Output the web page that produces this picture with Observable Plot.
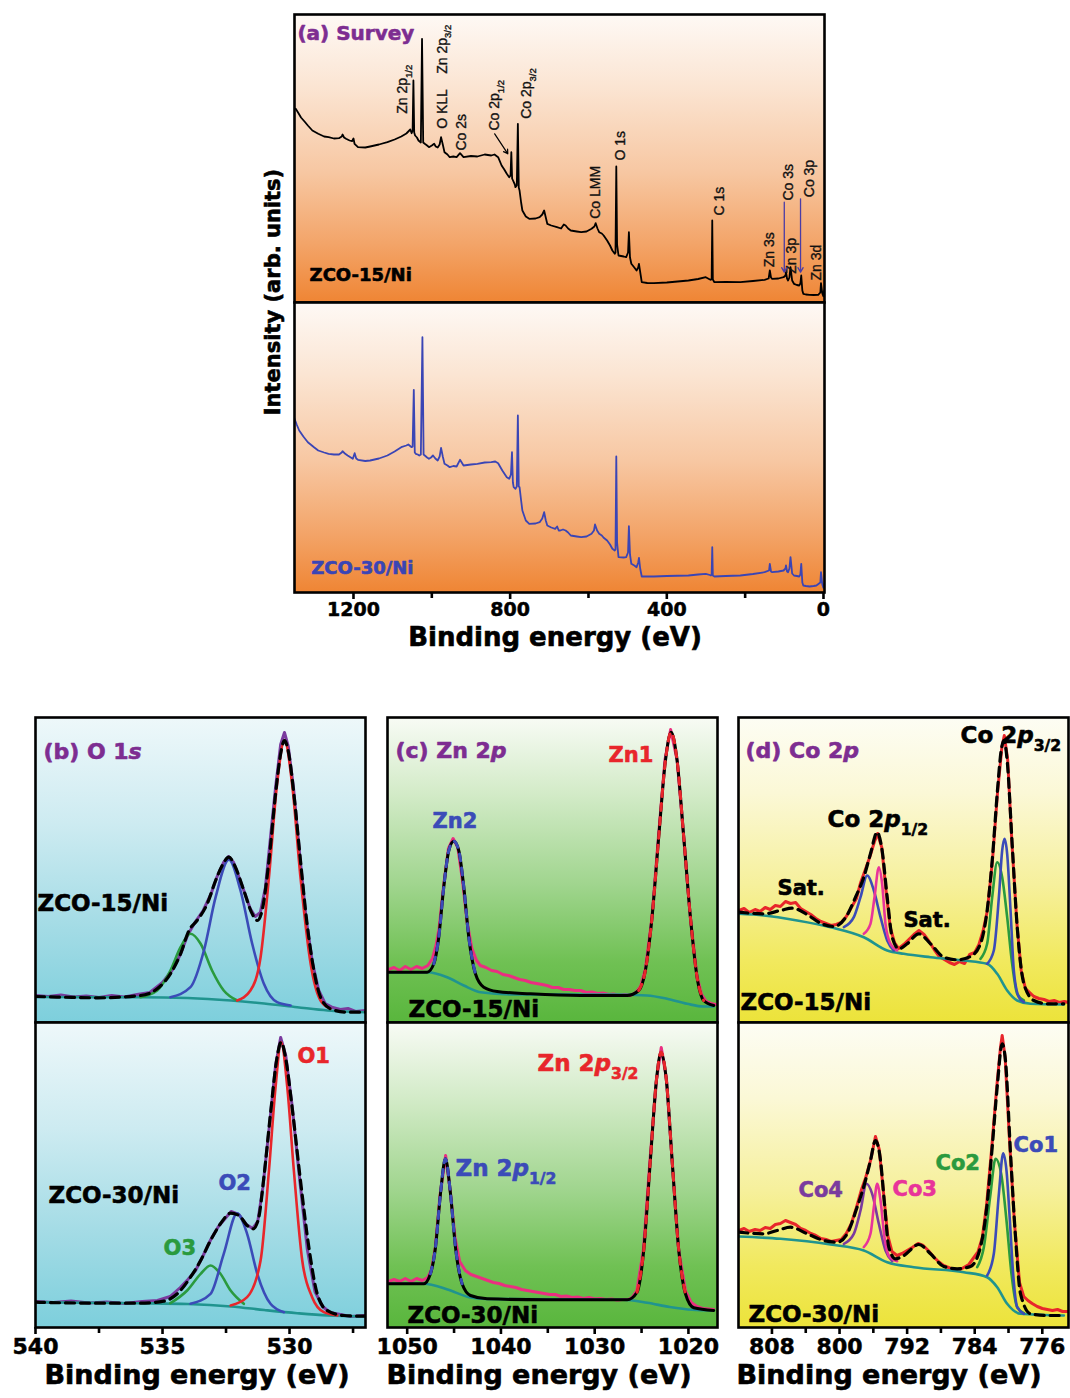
<!DOCTYPE html>
<html><head><meta charset="utf-8">
<script src="https://cdn.jsdelivr.net/npm/d3@7"></script>
<script src="https://cdn.jsdelivr.net/npm/@observablehq/plot@0.6"></script>
<style>
html,body{margin:0;padding:0;background:#fff;}
#fig{position:relative;width:1070px;height:1398px;overflow:hidden;background:#fff;font-family:"DejaVu Sans",sans-serif;}
.bg{position:absolute;}
.plotwrap{position:absolute;}
.plotwrap svg{overflow:visible;display:block;}
.ttl{position:absolute;font-weight:bold;white-space:nowrap;line-height:1;color:#000;font-family:"DejaVu Sans",sans-serif;-webkit-text-stroke:0.6px #000;}
</style></head>
<body><div id="fig"></div>
<script>
// ---------------- DATA ----------------
// (a) Survey: [binding energy (eV), intensity (a.u.)]
const surveyTicks = [1200, 800, 400, 0];
const surveyMinorTicks = [1000, 600, 200];
const surveyZCO15 = [[1347.5,193.7],[1340,189],[1334,185],[1325,181],[1316.5,177],[1305,172],[1290,168.7],[1275,166],[1263.5,165.3],[1250,164],[1237,164.3],[1230,166],[1228,168],[1224,165],[1219,163.7],[1210,162],[1203.5,161.3],[1200,164],[1197.3,158.7],[1188.5,155.3],[1170,155],[1157.5,156],[1135,158],[1113.4,160.3],[1095,163],[1078,166],[1065,169],[1060,171],[1055,173],[1051.5,169.3],[1049,172],[1047,222],[1045,170],[1042.7,167],[1038,165],[1034,162],[1028,160],[1025,263.7],[1022,160],[1018,158.7],[1012,157],[1007.3,155.3],[1000,157],[994,158.7],[990,156],[985,155],[980,158],[976.4,165.3],[972,158],[967.6,150.3],[960,148],[954.3,145.3],[945,146],[936.7,145.3],[928,149.3],[919,145.3],[900,146.5],[883.7,146],[865,148],[848.3,147],[840,148],[830.7,145.3],[821.8,137],[815,133],[808.6,128.7],[802.4,125.3],[799,127],[797,150.3],[795,124],[792.7,122],[788,118],[786.5,115.3],[783,117],[780.3,178.7],[778,115],[776,112],[772,100],[768.8,92],[760,86],[751.2,83.7],[735,84],[724.7,85.3],[718,88],[713.2,92],[709,85],[705.2,78.7],[695,77],[680.5,75.3],[670,74],[663,78],[658.4,77],[652,74],[645.2,72],[630,71],[618.7,70.3],[605,71],[592.2,73.7],[585,76],[581.6,79.3],[577,74],[572.7,70.3],[566,69],[561.2,67],[552.4,62],[545,57],[539,52],[532.9,48.7],[531,50],[529,136],[527,58],[523.3,47],[510,46],[503.8,45.3],[499,50],[496.8,70.3],[494,45],[490.6,38.7],[483,35],[477.3,32],[473,35],[471.1,38.7],[467,28],[464,20.3],[450,19.5],[433,19.3],[400,20],[344.8,22],[320,23.5],[300.6,25.3],[290,23],[287.4,22.7],[285.5,24],[284,82],[282.5,23],[278.5,20.3],[250,20.5],[212.3,20.3],[180,21.5],[150.4,22.7],[140,24],[137,32],[134,25],[131,23.7],[115,24],[102,25.3],[97,27],[95.7,30.3],[93,24],[90.4,22],[87,25],[84.2,35.3],[80,22],[75.3,18.7],[68,17.5],[62,17],[59,19],[56.8,27],[54,12],[51.5,8.7],[45,8],[35.6,7.7],[25,7.5],[13.5,7.7],[8,10],[6.4,19.3],[3,9],[0.3,6.3],[-2,12]];
const surveyZCO30 = [[1352,175.3],[1345,168],[1338.6,162],[1328,156],[1316.5,150.3],[1300,145],[1290,142],[1275,140],[1263.5,138.7],[1250,138],[1237,138],[1230,140],[1228,141.3],[1222,139],[1215,137],[1201.7,133.7],[1197,139.3],[1193,134],[1188.5,132.7],[1170,131.5],[1157.5,132],[1135,134],[1113.4,137],[1095,141],[1078,145.3],[1065,147],[1060,148],[1051.5,145.3],[1049,146],[1046,202.7],[1043.5,140],[1041,138.7],[1036,138],[1032,137],[1028,138],[1024,255.3],[1021,138],[1018,137],[1012,135],[1007.3,133.7],[1002,135],[997,137],[991,134],[985,132],[980,136],[976.4,144.7],[972,136],[967.6,128.7],[960,127],[954.3,125.3],[945,126.5],[936.7,126],[928,132.7],[919,127],[900,128],[883.7,128.7],[865,130],[848.3,130.3],[838,131],[830.7,129.3],[820,122],[808.6,115.3],[802.4,113.7],[798,118],[795.3,140.3],[793,110],[791,105.3],[786.5,103.7],[783,106],[780.3,177],[778,106],[776,105.3],[772,92],[768.8,82],[760,72],[751.2,68.7],[735,69],[724.7,70.3],[718,74],[713.2,80.3],[709,72],[705.2,67],[695,65],[685,63.7],[680,66],[676,62],[672,62],[665,63],[658.4,62],[652,60],[645.2,57],[630,56],[618.7,55.3],[605,56],[592.2,58.7],[586,62],[583.3,68],[578,62],[572.7,58.7],[566,57],[561.2,54.7],[552.4,52],[545,48],[539,43.7],[532.9,42],[531,43],[529,136],[527,50],[523.3,35.3],[510,35],[503.8,35.3],[499,40],[496.8,66.3],[494,38],[490.6,28.7],[483,27],[477.3,25.3],[473,30],[471.1,34.7],[468,24],[464,16],[450,16],[433,16],[400,16.5],[344.8,17],[320,18],[300.6,18.7],[290,17.5],[287.4,17],[285.5,18],[284,45.3],[282.5,17],[278.5,16],[250,16.5],[212.3,17],[180,18.5],[150.4,20.3],[139,22],[137,28.7],[134,21],[131,20.3],[115,21],[102,22],[97,24],[95.7,27],[93,21],[90.4,20.3],[87,24],[84.2,35.3],[80,19],[75.3,17],[68,16.5],[62,16],[59,18],[56.8,28.7],[54,10],[51.5,7],[45,6.5],[35.6,6],[25,6.5],[18,7],[8,10],[6.4,20.3],[3,8],[0.3,4.7],[-2,8.7]];
const surveyPeakLabels = [
  {label: "Zn 2p_{1/2}", energy: 1073.6, intensity: 188.7},
  {label: "Zn 2p_{3/2}", energy: 973.8, intensity: 228.7},
  {label: "O KLL", energy: 973.8, intensity: 173.7},
  {label: "Co 2s", energy: 925.2, intensity: 152},
  {label: "Co 2p_{1/2}", energy: 839.5, intensity: 172},
  {label: "Co 2p_{3/2}", energy: 757.3, intensity: 183.7},
  {label: "Co LMM", energy: 583.3, intensity: 83.7},
  {label: "O 1s", energy: 517.1, intensity: 142},
  {label: "C 1s", energy: 265.3, intensity: 87},
  {label: "Zn 3s", energy: 137.2, intensity: 35.3},
  {label: "Co 3s", energy: 88.6, intensity: 102},
  {label: "Zn 3p", energy: 81.5, intensity: 28.7},
  {label: "Co 3p", energy: 35.6, intensity: 105.3},
  {label: "Zn 3d", energy: 17.9, intensity: 22}
];
const surveyArrowBlack = [{x1: 839.5, y1: 168.7, x2: 805.9, y2: 148.7}];
const surveyArrowsBlue = [{x1: 100.1, y1: 100.3, x2: 100.1, y2: 30.3}, {x1: 58.6, y1: 103.7, x2: 58.6, y2: 30.3}];
const surveyLabelsTop = [{label: "(a) Survey", energy: 1343, intensity: 268.7}, {label: "ZCO-15/Ni", energy: 1312.1, intensity: 27}];
const surveyLabelsBottom = [{label: "ZCO-30/Ni", energy: 1307.7, intensity: 24.7}];

// (b) O 1s
const o1sTicks = [540, 535, 530];
const o1sMinorTicks = [537.5, 532.5, 527.5];
const o1sRawTop = [[540,27],[539.5,26],[539,27.5],[538.5,25.5],[538,26.5],[537.5,25],[537,27],[536.5,25.5],[536,28],[535.5,30],[535,40],[534.6,53],[534.3,68],[534,88],[533.7,101],[533.4,112],[533.1,128],[532.85,146],[532.6,160],[532.4,166],[532.2,160],[532,146],[531.8,132],[531.55,114],[531.35,106],[531.15,110],[530.95,135],[530.75,185],[530.55,235],[530.35,278],[530.2,290],[530.05,276],[529.85,236],[529.6,168],[529.35,104],[529.1,60],[528.85,32],[528.6,19],[528.3,15],[528,13],[527.7,14],[527.4,11],[527,12]];
const o1sEnvelopeTop = [[540,26],[538.88,25.3],[537.57,24.7],[535.87,27],[535.21,33.7],[534.69,48.7],[534.29,68.7],[533.96,92],[533.64,102],[533.24,118.7],[532.91,142],[532.65,157],[532.39,165.3],[532.13,155.3],[531.8,132],[531.47,108.7],[531.27,102],[531.08,112],[530.81,162],[530.55,228.7],[530.35,268.7],[530.2,282],[530.03,268.7],[529.83,228.7],[529.57,162],[529.31,98.7],[529.04,52],[528.78,25.3],[528.39,13.7],[527.73,10.3],[527.01,10.3]];
const o1sBaselineTop = [[540,25.5],[537,25.3],[535.9,25.3],[534,24.5],[532.3,22],[531,19],[529.7,15.3],[528.5,12],[527,10.3]];
const o1sO1Top = [[532.06,22],[531.54,32],[531.14,65.3],[530.81,145.3],[530.49,238.7],[530.2,282],[529.9,238.7],[529.57,145.3],[529.17,58.7],[528.78,22],[528.39,13.7]];
const o1sO2Top = [[534.69,25.3],[533.9,35.3],[533.37,72],[532.91,125.3],[532.39,162.7],[531.93,132],[531.47,78.7],[531.01,38.7],[530.49,20.3],[529.96,17]];
const o1sO3Top = [[535.87,25.3],[535.21,32],[534.69,52],[534.29,75.3],[533.9,88.7],[533.5,78.7],[533.05,52],[532.59,32],[532.06,22]];
const o1sRawBottom = [[540,26],[539.3,25],[538.6,26.5],[537.9,24.5],[537.2,25.5],[536.5,24],[535.8,26],[535.2,27],[534.7,31],[534.3,40],[534,48],[533.7,57],[533.4,72],[533.1,88],[532.8,101],[532.5,110],[532.3,116],[532,113],[531.7,103],[531.45,99],[531.25,106],[531.05,140],[530.8,200],[530.55,262],[530.35,290],[530.15,272],[529.9,222],[529.6,148],[529.3,78],[529,36],[528.7,21],[528.4,15],[528,13],[527.6,11],[527,12]];
const o1sEnvelopeBottom = [[540,25.3],[537.57,24.3],[535.87,24.3],[534.95,26.3],[534.42,33.7],[533.9,50.3],[533.5,67],[533.11,87],[532.72,103.7],[532.32,114.3],[531.99,112],[531.67,102],[531.43,98.7],[531.21,110.3],[531.01,150.3],[530.75,213.7],[530.49,270.3],[530.33,285.3],[530.16,270.3],[529.9,220.3],[529.57,147],[529.24,80.3],[528.91,33.7],[528.52,17],[527.86,12],[527.01,11.3]];
const o1sBaselineBottom = [[540,25.3],[536,24.3],[534,23.5],[532.3,21],[531,17.5],[529.7,14.3],[528.5,12],[527,11]];
const o1sO1Bottom = [[532.32,22],[531.67,30.3],[531.14,67],[530.81,157],[530.55,240.3],[530.33,285.3],[530.09,240.3],[529.83,157],[529.5,67],[529.11,30.3],[528.65,15.3],[528.12,12]];
const o1sO2Bottom = [[533.9,23.7],[533.11,33.7],[532.59,73.7],[532.06,114.3],[531.67,93.7],[531.27,53.7],[530.75,23.7],[530.22,15.3]];
const o1sO3Bottom = [[534.69,24.3],[534.03,37],[533.5,53.7],[533.11,62],[532.72,53.7],[532.32,37],[531.8,23.7]];
const o1sLabelsTop = [{label: "(b) O 1*s*", energy: 539.69, intensity: 271}, {label: "ZCO-15/Ni", energy: 539.92, intensity: 119}];
const o1sLabelsBottom = [{label: "ZCO-30/Ni", energy: 539.49, intensity: 132}, {label: "O1", energy: 529.69, intensity: 271}, {label: "O2", energy: 532.8, intensity: 144}, {label: "O3", energy: 534.96, intensity: 79}];

// (c) Zn 2p
const zn2pTicks = [1050, 1040, 1030, 1020];
const zn2pMinorTicks = [1045, 1035, 1025];
const zn2pRawTop = [[1052,53],[1051.4,55],[1050.8,52],[1050.2,56],[1049.6,53],[1049,56],[1048.4,54],[1047.8,57],[1047.3,64],[1046.9,78],[1046.6,94],[1046.1,138],[1045.6,174],[1045.1,184],[1044.6,175],[1044.1,142],[1043.6,100],[1043.1,74],[1042.6,62],[1042.2,57],[1041.6,55],[1041,52],[1040.4,51],[1039.8,48],[1039.2,47],[1038.6,45],[1038,43],[1037.4,42],[1036.8,40],[1036.2,39],[1035.6,38],[1035.1,37],[1034.5,35],[1033.9,35],[1033.3,33],[1032.7,33],[1032.1,32],[1031.5,32],[1030.9,30],[1030.3,30.5],[1029.7,29],[1029.1,29.5],[1028.5,28],[1028,28.5],[1027.4,27],[1026.8,28],[1026.2,27],[1025.6,30],[1025.1,36],[1024.6,53],[1023.9,104],[1023.2,186],[1022.5,263],[1021.9,293],[1021.2,262],[1020.5,185],[1019.8,105],[1019.1,47],[1018.6,28],[1018.1,21],[1017.6,19],[1017.1,18]];
const zn2pEnvelopeTop = [[1051.96,50.3],[1047.87,50.3],[1047.16,58.7],[1046.63,85.3],[1046.1,135.3],[1045.56,172],[1045.03,181.3],[1044.5,172],[1043.96,135.3],[1043.43,85.3],[1042.72,48.7],[1041.83,35.3],[1040.41,31],[1036.85,28.7],[1031.52,27],[1026.54,27],[1025.3,32],[1024.59,52],[1023.88,105.3],[1023.17,185.3],[1022.45,262],[1021.85,290.3],[1021.21,262],[1020.5,185.3],[1019.79,105.3],[1019.08,45.3],[1018.37,22],[1017.3,17]];
const zn2pBaselineTop = [[1051.96,50.3],[1047.87,50.3],[1045.74,45.3],[1043.96,37],[1042.19,30.3],[1038.63,28],[1027.97,28],[1024.41,27],[1022.28,23.7],[1020.14,18.7],[1018.37,16],[1017.3,16]];
const zn2pZn1Top = [[1025.3,32],[1024.59,52],[1023.88,105.3],[1023.17,185.3],[1022.45,262],[1021.85,290.3],[1021.21,262],[1020.5,185.3],[1019.79,105.3],[1019.08,45.3],[1018.37,22]];
const zn2pZn2Top = [[1047.16,58.7],[1046.63,85.3],[1046.1,135.3],[1045.56,172],[1045.03,181.3],[1044.5,172],[1043.96,135.3],[1043.43,85.3],[1042.72,48.7]];
const zn2pRawBottom = [[1052,46],[1051.4,48],[1050.8,46],[1050.2,49],[1049.6,46],[1049,49],[1048.4,47],[1047.8,50],[1047.4,58],[1047,80],[1046.5,132],[1045.9,172],[1045.4,136],[1044.9,90],[1044.4,66],[1043.8,57],[1043.2,53],[1042.6,51],[1042,49],[1041.4,47],[1040.8,45],[1040.2,44],[1039.6,42],[1039,41],[1038.4,40],[1037.8,38],[1037.2,37],[1036.6,36],[1036,35],[1035.4,34],[1034.8,33],[1034.2,33],[1033.6,31],[1033,31.5],[1032.4,30],[1031.8,30.5],[1031.2,29],[1030.6,30],[1030,28.5],[1029.4,29],[1028.8,28],[1028.2,28.5],[1027.6,27.5],[1027,28],[1026.4,28],[1026,30],[1025.5,37],[1024.8,78],[1024.1,168],[1023.4,248],[1022.9,280],[1022.35,249],[1021.75,168],[1021.05,78],[1020.3,36],[1019.7,25],[1019.1,21],[1018.5,19],[1017.9,18.5],[1017.3,18]];
const zn2pEnvelopeBottom = [[1051.96,43.7],[1048.23,43.7],[1047.52,53.7],[1046.98,80.3],[1046.45,133.7],[1045.92,168.7],[1045.38,133.7],[1044.85,80.3],[1044.14,43.7],[1043.25,32],[1041.47,28.7],[1035.08,27.7],[1026.54,27.7],[1025.48,35.3],[1024.77,77],[1024.06,167],[1023.42,247],[1022.92,275.3],[1022.35,247],[1021.74,167],[1021.03,77],[1020.32,33.7],[1019.43,19.7],[1017.3,17]];
const zn2pBaselineBottom = [[1051.96,43.7],[1048.23,43.7],[1045.7,38],[1043.4,30.3],[1041.5,28.5],[1027,27.7],[1024.4,24.7],[1022,20.5],[1019.6,17.7],[1017.3,17]];
const zn2pZn1Bottom = [[1025.48,35.3],[1024.77,77],[1024.06,167],[1023.42,247],[1022.92,275.3],[1022.35,247],[1021.74,167],[1021.03,77],[1020.32,33.7]];
const zn2pZn2Bottom = [[1047.52,53.7],[1046.98,80.3],[1046.45,133.7],[1045.92,168.7],[1045.38,133.7],[1044.85,80.3],[1044.14,43.7]];
const zn2pLabelsTop = [{label: "(c) Zn 2*p*", energy: 1051.25, intensity: 272}, {label: "Zn1", energy: 1028.53, intensity: 267}, {label: "Zn2", energy: 1047.3, intensity: 201}, {label: "ZCO-15/Ni", energy: 1049.86, intensity: 13}];
const zn2pLabelsBottom = [{label: "Zn 2*p*_{3/2}", energy: 1036.1, intensity: 264}, {label: "Zn 2*p*_{1/2}", energy: 1044.85, intensity: 159}, {label: "ZCO-30/Ni", energy: 1049.97, intensity: 12}];

// (d) Co 2p
const co2pTicks = [808, 800, 792, 784, 776];
const co2pMinorTicks = [804, 796, 788, 780];
const co2pRawTop = [[811.9,112],[811.3,114],[810.7,110],[810,113],[809.4,111],[808.8,115],[808.2,113],[807.6,117],[807,116],[806.4,121],[805.8,119],[805.2,120],[804.6,114],[804,111],[803.4,108],[802.8,104],[802.2,101],[801.6,99],[801,97],[800.4,98],[799.8,100],[799.2,106],[798.6,115],[798,124],[797.5,140],[796.9,154],[796.4,166],[795.9,180],[795.5,189],[795,175],[794.5,132],[794,95],[793.5,80],[793,74],[792.4,78],[791.8,83],[791.2,88],[790.6,92],[790,88],[789.4,81],[788.8,73],[788.2,66],[787.6,63],[787,60],[786.4,58],[785.8,61],[785.2,59],[784.6,68],[784,70],[783.5,78],[783,92],[782.5,112],[781.9,162],[781.3,230],[780.8,274],[780.5,287],[780.1,263],[779.6,180],[779,98],[778.5,52],[778,34],[777.5,30],[777,26],[776.4,24],[775.8,23],[775.2,21],[774.6,22],[774,20],[773.4,21],[772.9,20]];
const co2pEnvelopeTop = [[811.92,110.3],[808.96,108.7],[806.99,112],[805.61,114.3],[803.83,108],[802.26,99.3],[800.68,96],[799.3,104.7],[798.11,125.3],[797.13,145.3],[796.34,168.7],[795.55,190.3],[794.96,172],[794.36,125.3],[793.77,85.3],[792.98,73.7],[792,78.7],[790.62,88.7],[789.23,78.7],[787.66,65.3],[786.08,62.7],[784.5,66],[783.32,78.7],[782.53,112],[781.93,162],[781.34,228.7],[780.87,272],[780.55,282],[780.16,262],[779.57,178.7],[778.97,95.3],[778.18,38.7],[777,22],[775.42,18.7],[773.45,18.7]];
const co2pBaselineTop = [[811.92,108.7],[808.96,107],[805.02,102],[801.07,95.3],[797.13,85.3],[794.36,72],[792.39,68.7],[789.23,65.3],[785.29,62],[782.53,58.7],[781.34,48.7],[780.16,32],[778.97,22],[777.4,18.7],[773.45,18]];
const co2pCo1Top = [[782.53,58.7],[781.74,72],[781.14,125.3],[780.75,172],[780.47,183.7],[780.16,168.7],[779.76,112],[779.37,52],[778.78,25.3],[778.18,20.3]];
const co2pCo2Top = [[783.32,63.7],[782.53,78.7],[781.93,125.3],[781.34,160.3],[780.75,145.3],[780.16,105.3],[779.57,58.7],[778.97,28.7],[778.18,22]];
const co2pCo3Top = [[797.13,88.7],[796.34,98.7],[795.86,125.3],[795.35,155.3],[794.96,138.7],[794.56,98.7],[793.97,78.7],[793.18,72]];
const co2pCo4Top = [[799.49,95.3],[798.31,105.3],[797.52,125.3],[796.73,147],[795.94,132],[795.15,105.3],[794.36,82],[793.57,72]];
const co2pRawBottom = [[811.9,97],[811.3,99],[810.7,96],[810,98],[809.4,97],[808.8,100],[808.2,99],[807.6,103],[807,104],[806.4,107],[805.8,105],[805.2,103],[804.6,99],[804,97],[803.4,94],[802.8,92],[802.2,89],[801.6,88],[801,86],[800.4,87],[799.8,88],[799.2,94],[798.6,104],[798,120],[797.4,138],[796.9,150],[796.3,168],[795.75,191],[795.3,178],[794.8,135],[794.3,92],[793.8,76],[793.2,72],[792.6,74],[792,77],[791.4,80],[790.7,84],[790.1,82],[789.5,77],[788.9,71],[788.3,66],[787.7,62],[787.1,60],[786.5,58],[785.9,57],[785.3,60],[784.7,63],[784.1,70],[783.6,76],[783.1,90],[782.6,122],[782,178],[781.4,240],[780.95,280],[780.75,292],[780.4,270],[779.9,190],[779.3,105],[778.7,45],[778.2,31],[777.7,27],[777.2,24],[776.6,21],[776,19],[775.4,18],[774.8,17],[774.2,18],[773.6,16],[772.9,16]];
const co2pEnvelopeBottom = [[811.92,95.3],[808.96,93.7],[807.39,97],[805.81,100.3],[803.83,93.7],[801.86,87],[800.28,85.3],[799.1,93.7],[797.92,120.3],[796.93,147],[796.34,167],[795.75,187],[795.15,167],[794.68,123.7],[794.17,80.3],[793.38,68.7],[792.39,72],[790.62,83],[789.23,73.7],[787.66,61],[786.08,58.7],[784.5,61],[783.32,80.3],[782.53,123.7],[781.93,180.3],[781.34,240.3],[780.75,283.7],[780.36,267],[779.76,173.7],[779.17,90.3],[778.58,33.7],[777.4,13.7],[775.42,12],[773.45,12]];
const co2pBaselineBottom = [[811.92,91],[806.99,88.7],[801.07,83],[797.13,77],[794.36,65.3],[791.21,60.3],[785.29,55.3],[782.53,50.3],[781.34,40.3],[780.16,23.7],[778.58,13.7],[773.45,12]];
const co2pCo1Bottom = [[782.53,52],[781.74,73.7],[781.14,133.7],[780.63,174.3],[780.24,157],[779.84,107],[779.45,53.7],[778.97,20.3],[778.18,13.7]];
const co2pCo2Bottom = [[783.71,60.3],[782.92,80.3],[782.13,133.7],[781.54,168.7],[780.87,153.7],[780.24,107],[779.65,53.7],[778.97,20.3],[778.18,14.3]];
const co2pCo3Bottom = [[797.13,80.3],[796.34,93.7],[795.94,120.3],[795.55,143.7],[795.15,127],[794.68,90.3],[794.05,70.3],[793.18,66.3]];
const co2pCo4Bottom = [[799.49,83.7],[798.31,93.7],[797.52,117],[796.81,143.7],[796.14,133.7],[795.35,103.7],[794.56,77],[793.77,66.3]];
const co2pLabelsTop = [{label: "(d) Co 2*p*", energy: 811.13, intensity: 272}, {label: "Co 2*p*_{3/2}", energy: 785.68, intensity: 287}, {label: "Co 2*p*_{1/2}", energy: 801.42, intensity: 203}, {label: "Sat.", energy: 807.34, intensity: 134}, {label: "Sat.", energy: 792.43, intensity: 102}, {label: "ZCO-15/Ni", energy: 811.72, intensity: 20}];
const co2pLabelsBottom = [{label: "Co1", energy: 779.4, intensity: 182}, {label: "Co2", energy: 788.64, intensity: 164}, {label: "Co3", energy: 793.73, intensity: 138}, {label: "Co4", energy: 804.86, intensity: 137}, {label: "ZCO-30/Ni", energy: 810.78, intensity: 13}];

const xTitle = "Binding energy (eV)";
const yTitle = "Intensity (arb. units)";

// ---------------- STYLE ----------------
const PURPLE = "#7d2d91", RED = "#e8262b", BLUE = "#3b4bb8", GREEN = "#2a9a3e", TEAL = "#20948f",
      PINK = "#ea2f80", MAGENTA = "#e8349a", VIOLET = "#7a3b9e", BLACK = "#000", SBLUE = "#3a45b5";
const BG_A = "linear-gradient(to bottom, #fef9f5 0%, #fbe5d3 25%, #f7c7a2 55%, #f3a468 80%, #ef8534 100%)";
const BG_B = "linear-gradient(to bottom, #eef8fa 0%, #cdebf1 35%, #a2dbe5 70%, #7dcfdc 100%)";
const BG_C = "linear-gradient(to bottom, #f8fbf5 0%, #d3ebc8 25%, #a0d58e 55%, #70c154 80%, #59b63d 100%)";
const BG_D = "linear-gradient(to bottom, #fdfdf4 0%, #fbf8d6 25%, #f6f09c 55%, #f1e95e 80%, #ece33a 100%)";
const FONT = "DejaVu Sans";

const fig = document.getElementById("fig");

function richify(svg) {
  d3.select(svg).selectAll("text").each(function () {
    const t = this.textContent;
    if (!/\*|_\{/.test(t)) return;
    const parts = t.split(/(\*[^*]+\*|_\{[^}]+\})/).filter(s => s);
    while (this.firstChild) this.removeChild(this.firstChild);
    for (const p of parts) {
      const ts = document.createElementNS("http://www.w3.org/2000/svg", "tspan");
      if (p.startsWith("*")) { ts.textContent = p.slice(1, -1); ts.setAttribute("font-style", "italic"); }
      else if (p.startsWith("_{")) { ts.textContent = p.slice(2, -1); ts.setAttribute("font-size", "68%"); ts.setAttribute("dy", "0.5em"); }
      else ts.textContent = p;
      this.appendChild(ts);
    }
  });
}

function curveLine(data, stroke, extra = {}) {
  return Plot.line(data, {x: d => d[0], y: d => d[1], stroke, strokeWidth: 2.6, curve: "monotone-x", clip: true, strokeLinejoin: "round", ...extra});
}
function rawLine(data, stroke, extra = {}) {
  return Plot.line(data, {x: d => d[0], y: d => d[1], stroke, strokeWidth: 2.4, curve: "linear", clip: true, strokeLinejoin: "round", ...extra});
}
function label(d, opts = {}) {
  const fill = opts.fill || BLACK;
  return Plot.text([d], {x: "energy", y: "intensity", text: "label", textAnchor: "start", lineAnchor: "middle",
    fontFamily: FONT, fontWeight: "bold", fontSize: 21, fill, stroke: fill, strokeWidth: 0.6, ...opts});
}

function half({left, top, width, h, domain, bg, marks, axis}) {
  const bgDiv = document.createElement("div");
  bgDiv.className = "bg";
  Object.assign(bgDiv.style, {left: left + "px", top: top + "px", width: width + "px", height: h + "px", background: bg});
  fig.appendChild(bgDiv);
  const mb = axis ? 60 : 0;
  const all = [...marks, Plot.frame({stroke: BLACK, strokeWidth: 2.6})];
  if (axis) {
    all.push(Plot.ruleX(axis.major, {x: d => d, y1: 0, y2: -7, stroke: BLACK, strokeWidth: 2.6}));
    all.push(Plot.ruleX(axis.minor, {x: d => d, y1: 0, y2: -6, stroke: BLACK, strokeWidth: 2.6}));
    all.push(Plot.text(axis.major, {x: d => d, y: -axis.gap, text: d => String(d), lineAnchor: "top",
      fontFamily: FONT, fontWeight: "bold", fontSize: axis.fontSize, fill: BLACK, stroke: BLACK, strokeWidth: 0.5}));
  }
  const svg = Plot.plot({
    width, height: h + mb, marginTop: 0, marginRight: 0, marginBottom: mb, marginLeft: 0,
    x: {domain, axis: null}, y: {domain: [0, h], axis: null},
    style: {background: "transparent", overflow: "visible", fontFamily: FONT},
    marks: all
  });
  richify(svg);
  const wrap = document.createElement("div");
  wrap.className = "plotwrap";
  Object.assign(wrap.style, {left: left + "px", top: top + "px", width: width + "px"});
  wrap.appendChild(svg);
  fig.appendChild(wrap);
}

function title(text, cx, capTop, size, rotate = false) {
  const d = document.createElement("div");
  d.className = "ttl";
  d.textContent = text;
  d.style.fontSize = size + "px";
  if (rotate) {
    Object.assign(d.style, {left: cx + "px", top: capTop + "px", transform: "translate(-50%,-50%) rotate(-90deg)"});
  } else {
    Object.assign(d.style, {left: cx + "px", top: (capTop - 0.117 * size) + "px", transform: "translateX(-50%)"});
  }
  fig.appendChild(d);
}

// ---------------- PANEL (a) ----------------
const surveyDomain = [1350.6, -2.6];
const peakLabelMarks = [
  Plot.text(surveyPeakLabels, {x: "energy", y: "intensity", text: "label", rotate: -90, textAnchor: "start", lineAnchor: "middle",
    fontFamily: "Liberation Sans", fontSize: 14, fill: "#111", stroke: "#111", strokeWidth: 0.35}),
  Plot.arrow(surveyArrowBlack, {x1: "x1", y1: "y1", x2: "x2", y2: "y2", stroke: BLACK, strokeWidth: 1.2, headLength: 6}),
  Plot.arrow(surveyArrowsBlue, {x1: "x1", y1: "y1", x2: "x2", y2: "y2", stroke: "#4a3ca6", strokeWidth: 1.3, headLength: 6})
];
half({left: 294, top: 14, width: 530, h: 288, domain: surveyDomain, bg: BG_A, marks: [
  rawLine(surveyZCO15, BLACK, {strokeWidth: 1.8}),
  ...peakLabelMarks,
  label(surveyLabelsTop[0], {fill: PURPLE, fontSize: 20}),
  label(surveyLabelsTop[1], {fontSize: 18})
]});
half({left: 294, top: 302, width: 530, h: 290, domain: surveyDomain, bg: BG_A,
  axis: {major: surveyTicks, minor: surveyMinorTicks, fontSize: 19, gap: 10}, marks: [
  rawLine(surveyZCO30, SBLUE, {strokeWidth: 1.8}),
  label(surveyLabelsBottom[0], {fill: SBLUE, fontSize: 18})
]});
title(xTitle, 555, 627, 26);
title(yTitle, 273, 292, 21, true);

// ---------------- PANEL (b) ----------------
const o1sDomain = [540, 527.01];
const DASH = {strokeDasharray: "9,6", strokeWidth: 3.2};
half({left: 35, top: 717, width: 330, h: 305, domain: o1sDomain, bg: BG_B, marks: [
  rawLine(o1sRawTop, VIOLET, {strokeWidth: 3}),
  curveLine(o1sBaselineTop, TEAL),
  curveLine(o1sO3Top, GREEN), curveLine(o1sO2Top, BLUE), curveLine(o1sO1Top, RED),
  curveLine(o1sEnvelopeTop, BLACK, DASH),
  label(o1sLabelsTop[0], {fill: PURPLE, fontSize: 22}),
  label(o1sLabelsTop[1], {fontSize: 23})
]});
half({left: 35, top: 1022, width: 330, h: 305, domain: o1sDomain, bg: BG_B,
  axis: {major: o1sTicks, minor: o1sMinorTicks, fontSize: 22, gap: 11}, marks: [
  rawLine(o1sRawBottom, VIOLET, {strokeWidth: 3}),
  curveLine(o1sBaselineBottom, TEAL),
  curveLine(o1sO3Bottom, GREEN), curveLine(o1sO2Bottom, BLUE), curveLine(o1sO1Bottom, RED),
  curveLine(o1sEnvelopeBottom, BLACK, DASH),
  label(o1sLabelsBottom[0], {fontSize: 23}),
  label(o1sLabelsBottom[1], {fill: RED}),
  label(o1sLabelsBottom[2], {fill: BLUE}),
  label(o1sLabelsBottom[3], {fill: GREEN})
]});
title(xTitle, 197, 1364, 27);

// ---------------- PANEL (c) ----------------
const zn2pDomain = [1052.1, 1016.9];
const CDASH = {strokeDasharray: "7,7", strokeWidth: 3};
half({left: 387, top: 717, width: 330, h: 305, domain: zn2pDomain, bg: BG_C, marks: [
  rawLine(zn2pRawTop, PINK, {strokeWidth: 3}),
  curveLine(zn2pBaselineTop, TEAL),
  curveLine(zn2pEnvelopeTop, BLACK, {strokeWidth: 3}),
  curveLine(zn2pZn1Top, RED, CDASH), curveLine(zn2pZn2Top, BLUE, CDASH),
  label(zn2pLabelsTop[0], {fill: PURPLE, fontSize: 22}),
  label(zn2pLabelsTop[1], {fill: RED}),
  label(zn2pLabelsTop[2], {fill: BLUE}),
  label(zn2pLabelsTop[3], {fontSize: 23})
]});
half({left: 387, top: 1022, width: 330, h: 305, domain: zn2pDomain, bg: BG_C,
  axis: {major: zn2pTicks, minor: zn2pMinorTicks, fontSize: 22, gap: 11}, marks: [
  rawLine(zn2pRawBottom, PINK, {strokeWidth: 3}),
  curveLine(zn2pBaselineBottom, TEAL),
  curveLine(zn2pEnvelopeBottom, BLACK, {strokeWidth: 3}),
  curveLine(zn2pZn1Bottom, RED, CDASH), curveLine(zn2pZn2Bottom, BLUE, CDASH),
  label(zn2pLabelsBottom[0], {fill: RED, fontSize: 23}),
  label(zn2pLabelsBottom[1], {fill: BLUE, fontSize: 23}),
  label(zn2pLabelsBottom[2], {fontSize: 23})
]});
title(xTitle, 539, 1364, 27);

// ---------------- PANEL (d) ----------------
const co2pDomain = [811.96, 772.9];
half({left: 738, top: 717, width: 330, h: 305, domain: co2pDomain, bg: BG_D, marks: [
  rawLine(co2pRawTop, RED, {strokeWidth: 3}),
  curveLine(co2pBaselineTop, TEAL),
  curveLine(co2pCo4Top, BLUE), curveLine(co2pCo3Top, MAGENTA),
  curveLine(co2pCo2Top, GREEN), curveLine(co2pCo1Top, BLUE),
  curveLine(co2pEnvelopeTop, BLACK, DASH),
  label(co2pLabelsTop[0], {fill: PURPLE, fontSize: 22}),
  label(co2pLabelsTop[1], {fontSize: 23}),
  label(co2pLabelsTop[2], {fontSize: 23}),
  label(co2pLabelsTop[3]),
  label(co2pLabelsTop[4]),
  label(co2pLabelsTop[5], {fontSize: 23})
]});
half({left: 738, top: 1022, width: 330, h: 305, domain: co2pDomain, bg: BG_D,
  axis: {major: co2pTicks, minor: co2pMinorTicks, fontSize: 22, gap: 11}, marks: [
  rawLine(co2pRawBottom, RED, {strokeWidth: 3}),
  curveLine(co2pBaselineBottom, TEAL),
  curveLine(co2pCo4Bottom, VIOLET), curveLine(co2pCo3Bottom, MAGENTA),
  curveLine(co2pCo2Bottom, GREEN), curveLine(co2pCo1Bottom, BLUE),
  curveLine(co2pEnvelopeBottom, BLACK, DASH),
  label(co2pLabelsBottom[0], {fill: BLUE}),
  label(co2pLabelsBottom[1], {fill: GREEN}),
  label(co2pLabelsBottom[2], {fill: MAGENTA}),
  label(co2pLabelsBottom[3], {fill: VIOLET}),
  label(co2pLabelsBottom[4], {fontSize: 23})
]});
title(xTitle, 889, 1364, 27);
</script>
</body></html>
